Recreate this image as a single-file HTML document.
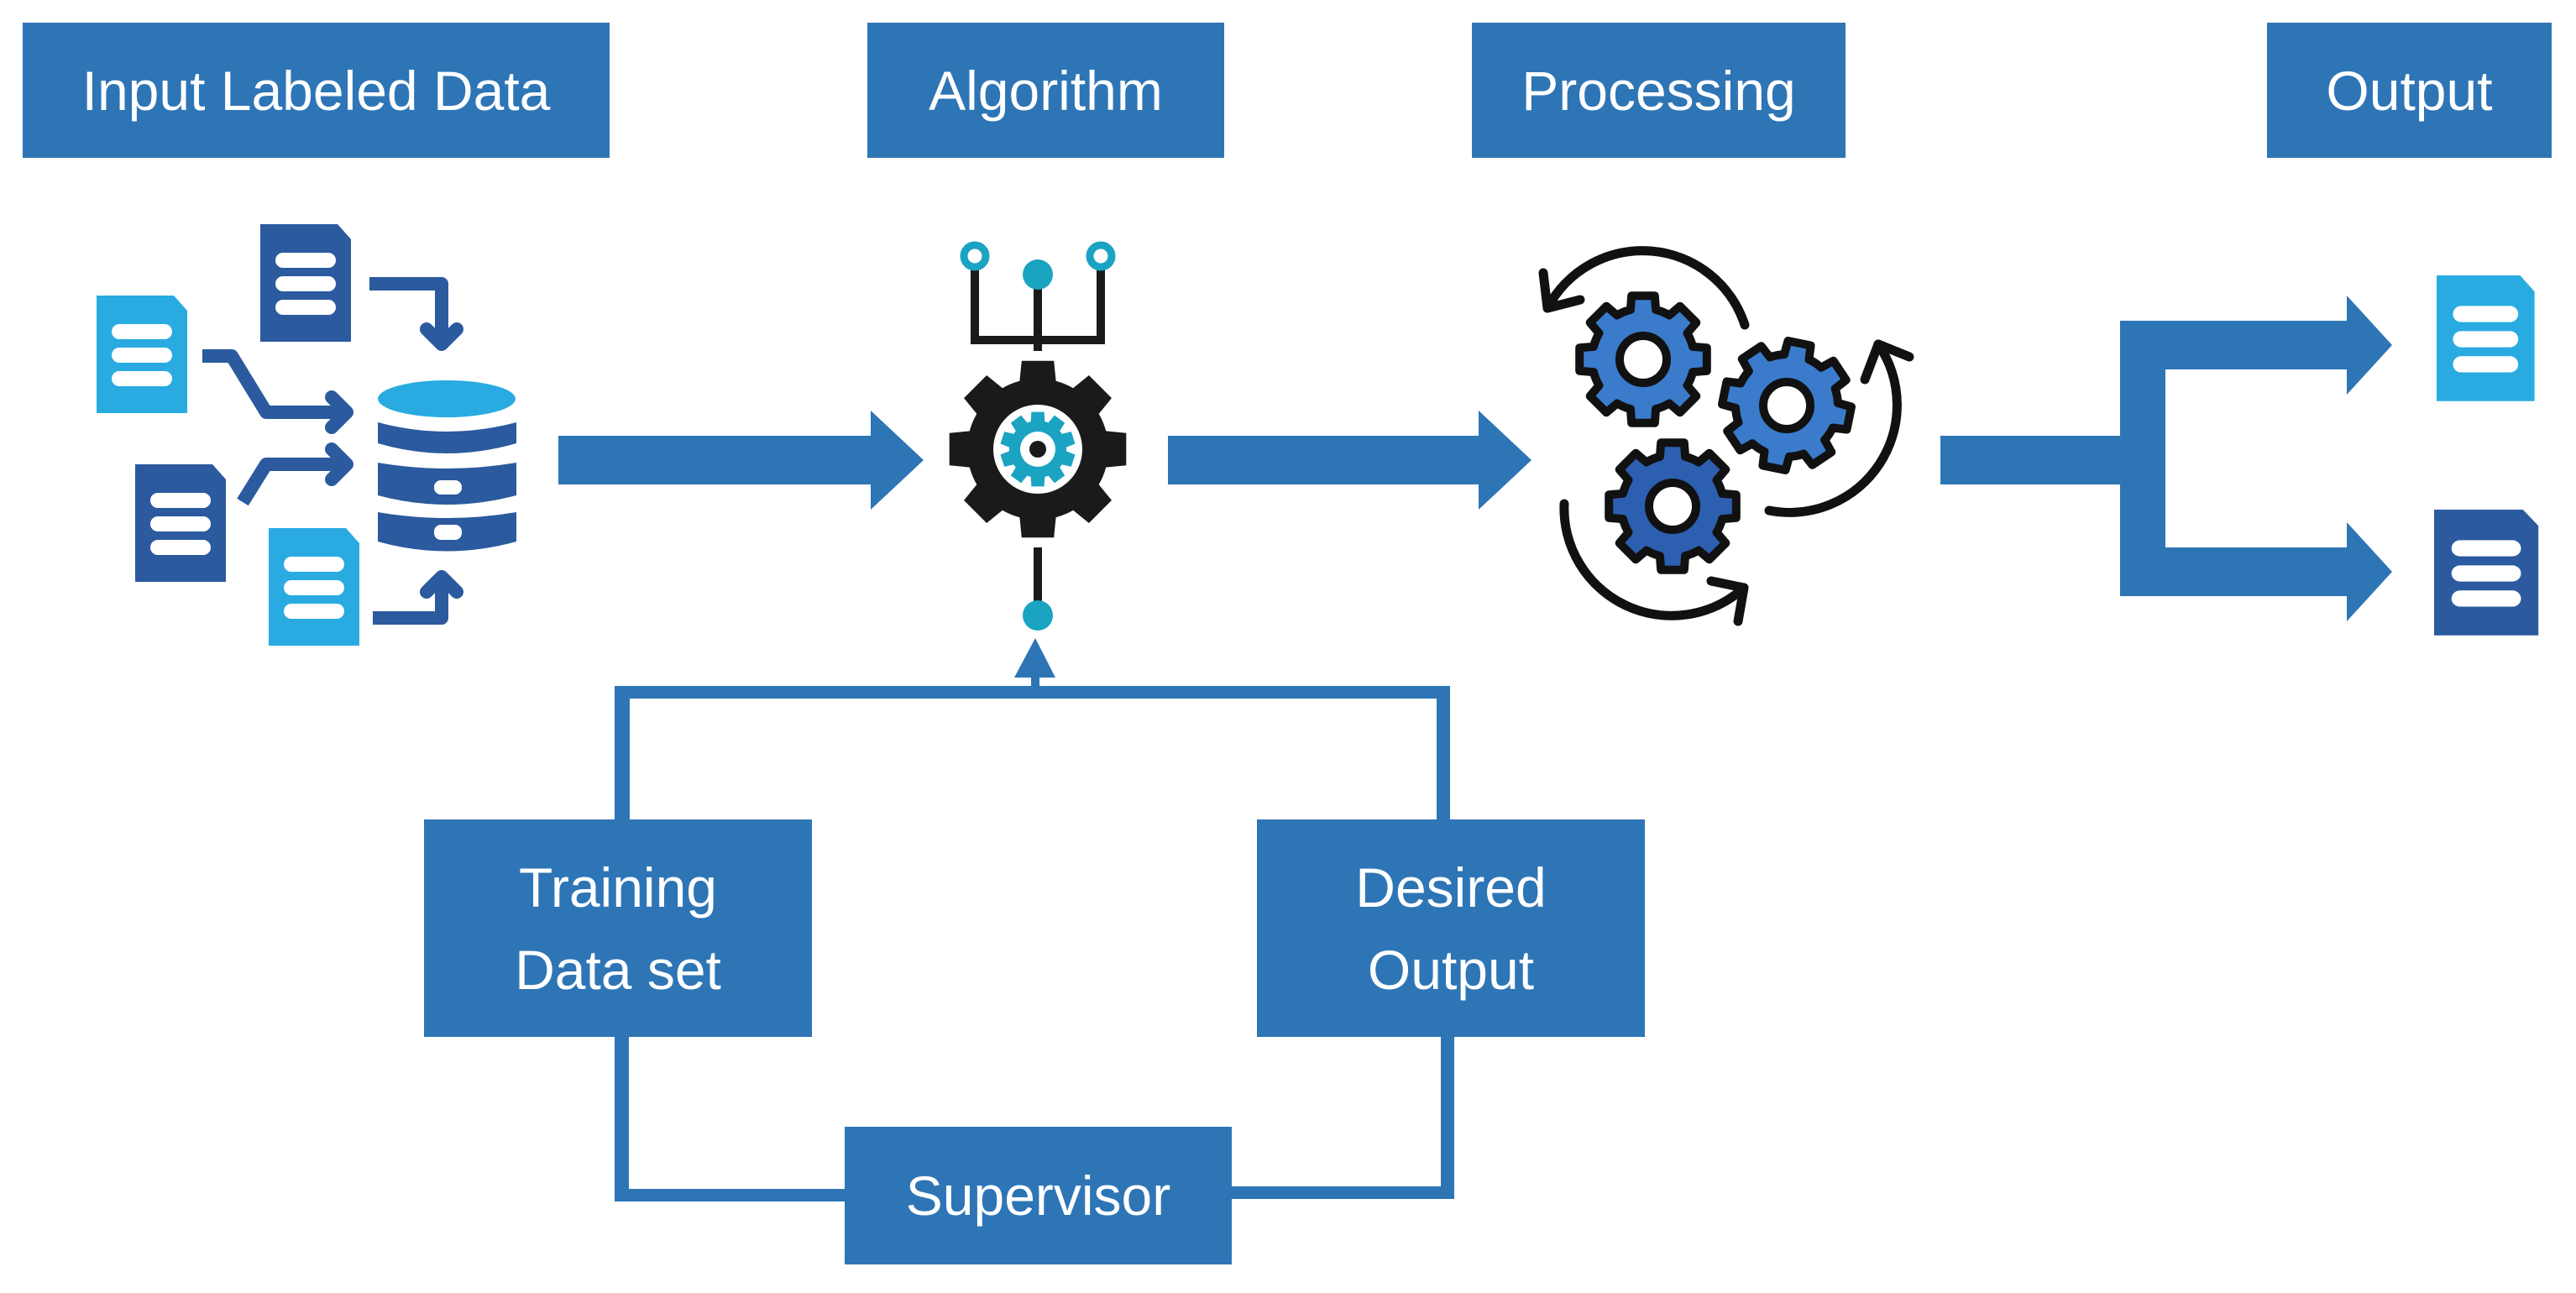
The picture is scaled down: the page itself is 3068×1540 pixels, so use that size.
<!DOCTYPE html>
<html><head><meta charset="utf-8"><style>
html,body{margin:0;padding:0;background:#fff;}
body{width:3068px;height:1540px;overflow:hidden;position:relative;font-family:"Liberation Sans",sans-serif;}
.box{position:absolute;background:#2E75B6;color:#fff;display:flex;align-items:center;justify-content:center;text-align:center;font-size:66px;line-height:98px;}
svg{position:absolute;left:0;top:0;}
</style></head><body>
<svg id="s" width="3068" height="1540" viewBox="0 0 3068 1540">
<defs>
<g id="docL"><path d="M0 0 H92 L108 18 V140 H0 Z" fill="#29ABE2"/><rect x="18" y="34" width="72" height="18" rx="9" fill="#fff"/><rect x="18" y="62" width="72" height="18" rx="9" fill="#fff"/><rect x="18" y="90" width="72" height="18" rx="9" fill="#fff"/></g>
<g id="docD"><path d="M0 0 H92 L108 18 V140 H0 Z" fill="#2B5A9E"/><rect x="18" y="34" width="72" height="18" rx="9" fill="#fff"/><rect x="18" y="62" width="72" height="18" rx="9" fill="#fff"/><rect x="18" y="90" width="72" height="18" rx="9" fill="#fff"/></g>
</defs>
<g fill="#2E75B6">
<polygon points="665,519 1037,519 1037,489 1100,548 1037,607 1037,577 665,577"/>
<polygon points="1391,519 1761,519 1761,489 1824,548 1761,607 1761,577 1391,577"/>
<polygon points="2311,519 2525,519 2525,382 2795,382 2795,352 2849,411 2795,470 2795,440 2579,440 2579,652 2795,652 2795,622 2849,681 2795,740 2795,710 2525,710 2525,577 2311,577"/>
<rect x="732" y="817" width="995" height="15"/>
<rect x="732" y="817" width="18" height="165"/>
<rect x="1711" y="817" width="16" height="165"/>
<rect x="1228" y="795" width="10" height="30"/>
<polygon points="1233,760 1257,807 1208,807"/>
<rect x="732" y="1230" width="17" height="201"/>
<rect x="732" y="1416" width="280" height="15"/>
<rect x="1716" y="1230" width="16" height="198"/>
<rect x="1460" y="1413" width="272" height="15"/>
</g>
<use href="#docD" x="310" y="267"/>
<use href="#docL" x="115" y="352"/>
<use href="#docD" x="161" y="553"/>
<use href="#docL" x="320" y="629"/>
<g fill="none" stroke="#2B5A9E" stroke-width="16" stroke-linejoin="round" stroke-linecap="round">
<polyline points="440,338 526,338 526,405" stroke-linecap="butt"/>
<polyline points="508,392 526,410 544,392"/>
<polyline points="241,424 276,424 317,491 405,491" stroke-linecap="butt"/>
<polyline points="395,473 413,491 395,509"/>
<polyline points="289,598 317,553 405,553" stroke-linecap="butt"/>
<polyline points="395,535 413,553 395,571"/>
<polyline points="444,736 526,736 526,692" stroke-linecap="butt"/>
<polyline points="508,705 526,687 544,705"/>
</g>
<g>
<ellipse cx="532" cy="475" rx="82" ry="22" fill="#29ABE2"/>
<path d="M450 503 Q532 525 615 503 V528 Q532 552 450 528 Z" fill="#2B5A9E"/>
<path d="M450 551 Q532 565 615 551 V590 Q532 612 450 590 Z" fill="#2B5A9E"/>
<path d="M450 610 Q532 624 615 610 V645 Q532 668 450 645 Z" fill="#2B5A9E"/>
<rect x="517" y="572" width="33" height="17" rx="8" fill="#fff"/>
<rect x="517" y="625" width="33" height="18" rx="8" fill="#fff"/>
</g>
<g stroke="#1a1a1a" stroke-width="10" fill="none">
<polyline points="1161,315 1161,405 1311,405 1311,315"/>
<line x1="1236" y1="335" x2="1236" y2="418"/>
<line x1="1236" y1="652" x2="1236" y2="720"/>
</g>
<circle cx="1161" cy="305" r="13" fill="#fff" stroke="#1BA3C2" stroke-width="9"/>
<circle cx="1311" cy="305" r="13" fill="#fff" stroke="#1BA3C2" stroke-width="9"/>
<circle cx="1236" cy="327" r="18" fill="#1BA3C2"/>
<circle cx="1236" cy="733" r="18" fill="#1BA3C2"/>
<path id="g0" fill="#1a1a1a"/>
<circle cx="1236" cy="535" r="53" fill="#fff"/>
<path id="g1" fill="#1BA3C2"/>
<circle cx="1236" cy="535" r="21" fill="#fff"/>
<circle cx="1236" cy="535" r="10" fill="#1a1a1a"/>
<g fill="none" stroke="#111" stroke-width="11" stroke-linecap="round" stroke-linejoin="round">
<path d="M2078 387 A128 128 0 0 0 1843 367"/>
<polyline points="1838,325 1843,367 1882,357"/>
<path d="M2107 608 A128 128 0 0 0 2237 410"/>
<polyline points="2221,452 2237,410 2274,425"/>
<path d="M1863 600 A128 128 0 0 0 2077 700"/>
<polyline points="2038,692 2077,700 2070,740"/>
</g>
<path id="p1" fill="#3A7BCB" stroke="#111" stroke-width="10" stroke-linejoin="round"/>
<path id="p2" fill="#3A7BCB" stroke="#111" stroke-width="10" stroke-linejoin="round"/>
<path id="p3" fill="#2D5FB0" stroke="#111" stroke-width="10" stroke-linejoin="round"/>
<g fill="#fff" stroke="#111" stroke-width="10">
<circle cx="1957" cy="428" r="28"/>
<circle cx="2128" cy="483" r="28"/>
<circle cx="1992" cy="603" r="28"/>
</g>
<use href="#docL" x="2902" y="328" transform="translate(2902,328) scale(1.08,1.07) translate(-2902,-328)"/>
<use href="#docD" x="2899" y="607" transform="translate(2899,607) scale(1.15,1.07) translate(-2899,-607)"/>
</svg>
<div class="box" style="left:27px;top:27px;width:699px;height:161px;">Input Labeled Data</div>
<div class="box" style="left:1033px;top:27px;width:425px;height:161px;">Algorithm</div>
<div class="box" style="left:1753px;top:27px;width:445px;height:161px;">Processing</div>
<div class="box" style="left:2700px;top:27px;width:339px;height:161px;">Output</div>
<div class="box" style="left:505px;top:976px;width:462px;height:259px;">Training<br>Data set</div>
<div class="box" style="left:1497px;top:976px;width:462px;height:259px;">Desired<br>Output</div>
<div class="box" style="left:1006px;top:1342px;width:461px;height:164px;">Supervisor</div>
<script>
function gear(cx,cy,n,R,r,tw,bw,rot){
 var d="",step=2*Math.PI/n;
 for(var i=0;i<n;i++){
  var a=rot+i*step;
  var pts=[[r,a-bw/2],[R,a-tw/2],[R,a+tw/2],[r,a+bw/2]];
  for(var j=0;j<4;j++){
   var p=pts[j];var x=cx+p[0]*Math.cos(p[1]),y=cy+p[0]*Math.sin(p[1]);
   d+=(i==0&&j==0?"M":"L")+x.toFixed(1)+" "+y.toFixed(1)+" ";
  }
  var ea=a+step-bw/2;
  d+="A"+r+" "+r+" 0 0 1 "+(cx+r*Math.cos(ea)).toFixed(1)+" "+(cy+r*Math.sin(ea)).toFixed(1)+" ";
 }
 return d+"Z";
}
var P=Math.PI;
document.getElementById("g0").setAttribute("d",gear(1236,535,8,107,84,0.36,0.52,-P/2));
document.getElementById("g1").setAttribute("d",gear(1236,535,10,45,34,0.34,0.5,-P/2));
document.getElementById("p1").setAttribute("d",gear(1957,428,8,77,61,0.36,0.5,-P/2));
document.getElementById("p2").setAttribute("d",gear(2128,483,8,77,61,0.36,0.5,-P/2+0.2));
document.getElementById("p3").setAttribute("d",gear(1992,603,8,77,61,0.36,0.5,-P/2));
</script>
</body></html>
